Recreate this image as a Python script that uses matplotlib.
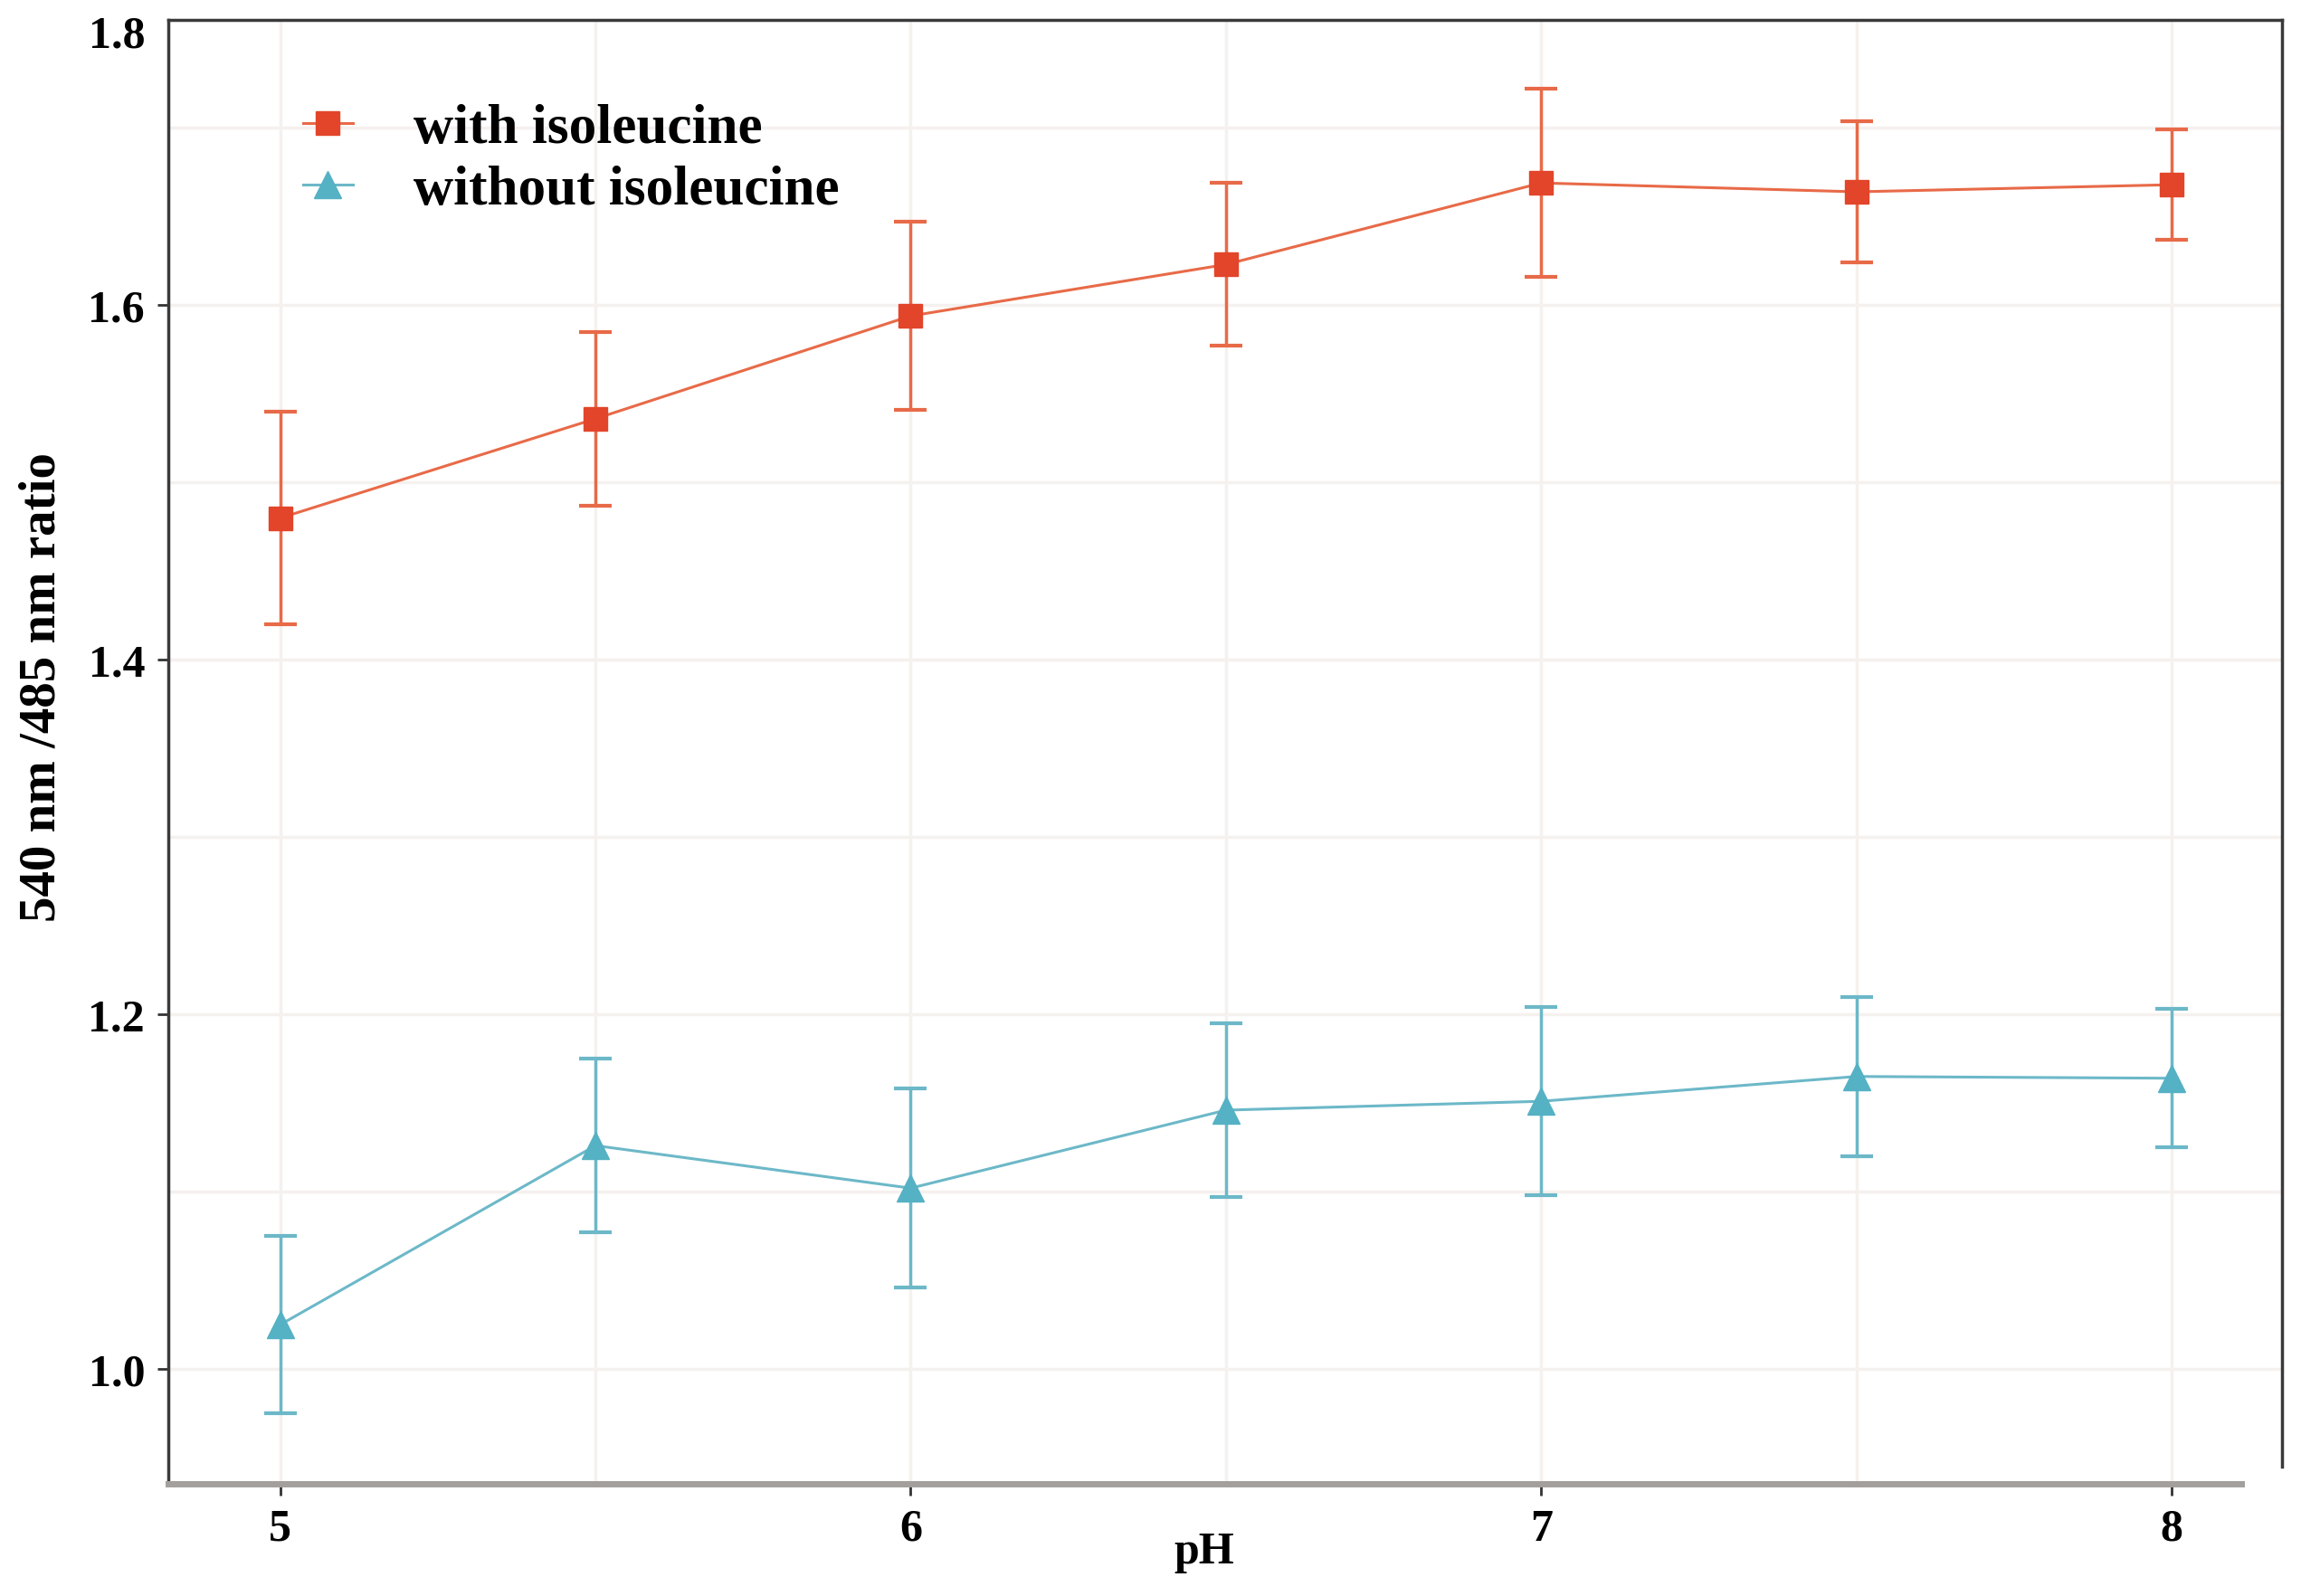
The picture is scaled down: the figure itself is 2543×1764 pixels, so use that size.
import matplotlib.pyplot as plt
from matplotlib.lines import Line2D

ph = [5, 5.5, 6, 6.5, 7, 7.5, 8]

with_ile = [1.480, 1.536, 1.594, 1.623, 1.669, 1.664, 1.668]
with_ile_err = [0.060, 0.049, 0.053, 0.046, 0.053, 0.040, 0.031]

without_ile = [1.025, 1.126, 1.102, 1.146, 1.151, 1.165, 1.164]
without_ile_err = [0.050, 0.049, 0.056, 0.049, 0.053, 0.045, 0.039]

red = '#e2452a'
red_line = '#e86a48'
teal = '#55b1c4'
teal_line = '#6cb8c8'

plt.rcParams['font.family'] = ['Liberation Serif', 'DejaVu Serif']

fig = plt.figure(figsize=(25.43, 17.65), dpi=100)
ax = fig.add_axes([0.0733, 0.070, 0.9184, 0.917])

ax.errorbar(ph, with_ile, yerr=with_ile_err, fmt='none', ecolor=red_line,
            elinewidth=2.5, capsize=13, capthick=3, zorder=3)
ax.plot(ph, with_ile, color=red_line, lw=2.2, marker='s', markersize=19,
        markerfacecolor=red, markeredgecolor=red, zorder=4)

ax.errorbar(ph, without_ile, yerr=without_ile_err, fmt='none', ecolor=teal_line,
            elinewidth=2.5, capsize=13, capthick=3, zorder=3)
ax.plot(ph, without_ile, color=teal_line, lw=2.2, marker='^', markersize=21,
        markerfacecolor=teal, markeredgecolor=teal, zorder=4)

ax.set_xlim(4.823, 8.175)
ax.set_ylim(0.935, 1.761)
ax.set_xticks([5, 6, 7, 8])
ax.set_xticks([5.5, 6.5, 7.5], minor=True)
ax.set_yticks([1.0, 1.2, 1.4, 1.6])
ax.set_yticks([1.1, 1.3, 1.5, 1.7], minor=True)
ax.grid(which='both', color='#f5f1ee', lw=2.5, zorder=0)
ax.set_axisbelow(True)

ax.tick_params(axis='both', which='major', labelsize=36, length=9, width=2,
               color='#333333', pad=10)
ax.tick_params(axis='both', which='minor', length=0)
for lab in ax.get_xticklabels() + ax.get_yticklabels():
    lab.set_fontweight('bold')

ax.text(-0.011, 1.752, '1.8', transform=ax.get_yaxis_transform(), ha='right',
        va='center', fontsize=36, fontweight='bold')

for side in ['top', 'left', 'right']:
    ax.spines[side].set_color('#3a3a3a')
    ax.spines[side].set_linewidth(2.5)
ax.spines['right'].set_bounds(0.945, 1.761)
ax.spines['bottom'].set_color('#a39f9c')
ax.spines['bottom'].set_linewidth(5)
ax.spines['bottom'].set_bounds(4.823, 8.11)

ax.text(-0.060, 0.545, '540 nm /485 nm ratio', transform=ax.transAxes,
        rotation=90, ha='center', va='center', fontsize=41, fontweight='bold')
ax.text(0.49, -0.046, 'pH', transform=ax.transAxes, ha='center', va='center',
        fontsize=36, fontweight='bold')

handles = [
    Line2D([], [], color=red_line, lw=2.2, marker='s', markersize=19,
           markerfacecolor=red, markeredgecolor=red),
    Line2D([], [], color=teal_line, lw=2.2, marker='^', markersize=21,
           markerfacecolor=teal, markeredgecolor=teal),
]
ax.legend(handles, ['with isoleucine', 'without isoleucine'], loc='upper left',
          bbox_to_anchor=(0.04, 0.977), frameon=False, handlelength=0.9,
          handletextpad=1.1, labelspacing=0.2, prop={'size': 44, 'weight': 'bold'})

fig.savefig('out.png', dpi=100, facecolor='white')
